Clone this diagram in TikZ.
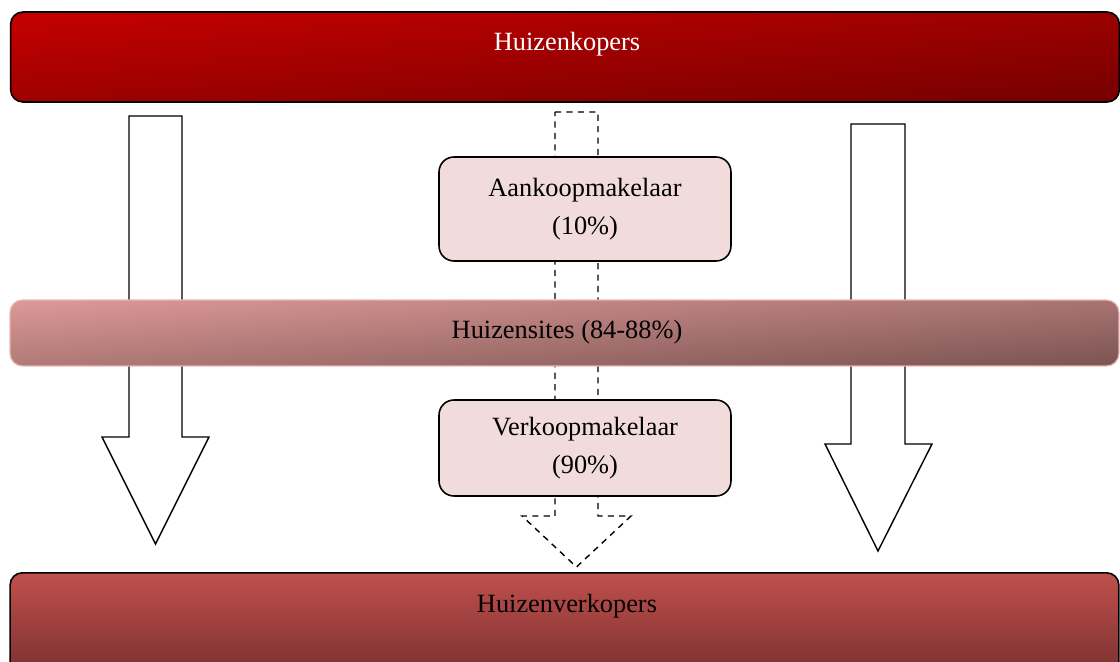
\documentclass[tikz,border=0pt]{standalone}
\usepackage{fontspec}
\setmainfont{Liberation Serif}
\usepackage{xcolor}
\usetikzlibrary{positioning}
\definecolor{kopersA}{HTML}{C20000}
\definecolor{kopersB}{HTML}{780000}
\definecolor{sitesA}{HTML}{DA9795}
\definecolor{sitesB}{HTML}{7E5654}
\definecolor{sitesrand}{HTML}{E8B6B5}
\definecolor{verkopersA}{HTML}{C0504D}
\definecolor{verkopersB}{HTML}{6E2B2B}
\definecolor{makelaarvul}{HTML}{F2DCDB}
\tikzstyle{bar}=[rounded corners=7pt,inner sep=0pt,minimum width=22.18cm]
\tikzstyle{barrand}+=[bar,draw=black,line width=0.9pt]
\tikzstyle{tekst}=[font=\fontsize{15}{21.5}\selectfont,align=center,inner sep=0pt]
\tikzstyle{makelaar}=[tekst,draw=black,line width=0.9pt,rounded corners=8.5pt,fill=makelaarvul,minimum width=5.84cm]
\tikzstyle{blokpijl}=[draw=black,line width=0.8pt,fill=white,line join=miter]
\tikzstyle{stippel}=[blokpijl,dash pattern=on 3.5pt off 3pt]

\begin{document}
\begin{tikzpicture}[x=0.02cm,y=-0.02cm]
    \useasboundingbox (0,0) rectangle (1120,662);
    \clip (0,0) rectangle (1120,662);
    % blokpijlen
    \draw[blokpijl] (129,116) -- (182,116) -- (182,437) -- (209,437) -- (155.5,544)
      -- (102,437) -- (129,437) -- cycle;
    \draw[blokpijl] (851,124) -- (905,124) -- (905,444) -- (932,444) -- (878,551)
      -- (825,444) -- (851,444) -- cycle;
    \draw[stippel] (555,112) -- (598,112) -- (598,516) -- (631,516) -- (576.5,567)
      -- (522,516) -- (555,516) -- cycle;
    % balken
    \node[barrand,minimum height=1.8cm,top color=kopersA,bottom color=kopersB,shading angle=5]
      (kopersbalk) at (565,57) {};
    \node[bar,draw=sitesrand,line width=0.7pt,minimum height=1.32cm,top color=sitesA,bottom color=sitesB,shading angle=4]
      (sites) at (564.5,333) {};
    \node[barrand,anchor=north,minimum height=2.4cm,top color=verkopersA,bottom color=verkopersB]
      (verkopersbalk) at (564.5,572) {};
    \node[tekst,text=white] (kopers) at (567,44) {Huizenkopers};
    \node[tekst] (sitestekst) at (567,332) {Huizensites (84-88\%)};
    \node[tekst] (verkopers) at (567,606) {Huizenverkopers};
    % makelaars
    \node[makelaar,minimum height=2.08cm] (aankoop) at (585,209) {Aankoopmakelaar\\(10\%)};
    \node[makelaar,minimum height=1.92cm] (verkoop) at (585,448) {Verkoopmakelaar\\(90\%)};
\end{tikzpicture}
\end{document}
